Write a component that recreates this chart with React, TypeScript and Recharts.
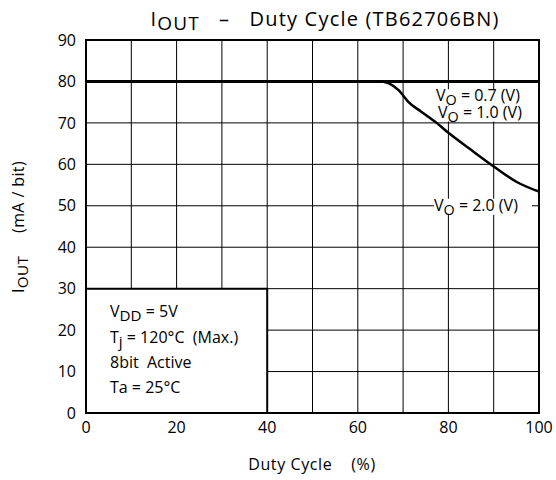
import { ComposedChart, Line, XAxis, YAxis, CartesianGrid, ReferenceArea, ReferenceDot } from 'recharts'

const xTicks = [0, 20, 40, 60, 80, 100]
const yTicks = [0, 10, 20, 30, 40, 50, 60, 70, 80, 90]
const gridX = [0, 10, 20, 30, 40, 50, 60, 70, 80, 90, 100]
const gridY = [0, 5, 10, 15, 20, 25, 30, 35, 40, 45, 50, 55, 60, 65, 70, 75, 80, 85, 90]

// Vo = 0.7 V : flat at 80 mA
const flatDuty = [0, 100]
const flatIout = [80, 80]

// Vo = 2.0 V : derating curve
const curveDuty = [65.4, 67, 69, 71.2, 74, 77.4, 80, 85, 90, 95, 100]
const curveIout = [80, 79.5, 77.9, 75, 72.7, 70, 67.6, 63.5, 59.5, 55.8, 53.4]

const conditions = ['VDD = 5V', 'Tj = 120°C  (Max.)', '8bit  Active', 'Ta = 25°C']

const flatData = flatDuty.map((d, i) => ({ duty: d, iout: flatIout[i] }))
const curveData = curveDuty.map((d, i) => ({ duty: d, iout: curveIout[i] }))

const FONT = '"Open Sans", "DejaVu Sans", sans-serif'
const PRE = { whiteSpace: 'pre' as const }

function SubText({ x, y, main, sub, rest, size = 16, anchor = 'start', spacing = 0, subSize = 0.95 }: any) {
  return (
    <text x={x} y={y} fontFamily={FONT} fontSize={size} fill="#000" textAnchor={anchor} letterSpacing={spacing} style={PRE}>
      <tspan>{main}</tspan>
      <tspan dy={4} fontSize={size * subSize}>{sub}</tspan>
      <tspan dy={-4}>{rest}</tspan>
    </text>
  )
}

function VoLabel(text: string, dx: number, dy: number, w: number) {
  return (props: any) => {
    const { cx, cy } = props
    return (
      <g>
        <rect x={cx + dx} y={cy + dy - 12} width={w} height={16} fill="#fff" />
        <SubText x={cx + dx} y={cy + dy} main="V" sub="O" rest={text} subSize={0.9} />
      </g>
    )
  }
}

function ConditionBox(props: any) {
  const { cx, cy } = props
  return (
    <g>
      <SubText x={cx + 24} y={cy + 28} main="V" sub="DD" rest=" = 5V" />
      <SubText x={cx + 24} y={cy + 54} main="T" sub="j" rest=" = 120°C  (Max.)" />
      <text x={cx + 24} y={cy + 79} fontFamily={FONT} fontSize={16} fill="#000" style={PRE}>{conditions[2]}</text>
      <text x={cx + 24} y={cy + 104} fontFamily={FONT} fontSize={16} fill="#000" style={PRE}>{conditions[3]}</text>
    </g>
  )
}

export default function App() {
  return (
    <div style={{ position: 'absolute', left: 0, top: 0, width: 556, height: 480, background: '#fff' }}>
      <svg width={556} height={480} style={{ position: 'absolute', left: 0, top: 0 }}>
        <SubText x={325} y={26} main="I" sub="OUT" rest="   –   Duty Cycle (TB62706BN)" size={20} spacing={1.2} anchor="middle" />
        <text x={312} y={470} fontFamily={FONT} fontSize={16} letterSpacing={0.6} textAnchor="middle" fill="#000" style={PRE}>Duty Cycle    (%)</text>
        <g transform="translate(24 227) rotate(-90)">
          <SubText x={0} y={0} main="I" sub="OUT" rest="     (mA / bit)" size={16} spacing={0.4} anchor="middle" />
        </g>
      </svg>
      <ComposedChart
        width={556}
        height={480}
        margin={{ top: 40, right: 17, bottom: 37, left: 36 }}
        style={{ position: 'absolute', left: 0, top: 0 }}
      >
        <CartesianGrid
          stroke="#000"
          strokeWidth={1}
          verticalValues={gridX}
          horizontalValues={gridY}
        />
        <XAxis
          type="number"
          dataKey="duty"
          domain={[0, 100]}
          ticks={xTicks}
          allowDataOverflow
          height={30}
          tickLine={false}
          axisLine={{ stroke: '#000', strokeWidth: 2 }}
          tick={{ fill: '#000', fontSize: 16, fontFamily: FONT }}
          tickMargin={3}
        />
        <YAxis
          type="number"
          dataKey="iout"
          domain={[0, 90]}
          ticks={yTicks}
          allowDataOverflow
          width={50}
          tickLine={false}
          axisLine={{ stroke: '#000', strokeWidth: 2 }}
          tick={{ fill: '#000', fontSize: 16, fontFamily: FONT }}
          tickMargin={4}
        />
        <ReferenceArea x1={0} x2={40} y1={0} y2={30} fill="#fff" fillOpacity={1} stroke="#000" strokeWidth={2} />
        <ReferenceArea x1={0} x2={100} y1={0} y2={90} fill="none" fillOpacity={0} stroke="#000" strokeWidth={2} />
        <Line
          data={flatData}
          dataKey="iout"
          type="linear"
          stroke="#000"
          strokeWidth={3}
          dot={false}
          isAnimationActive={false}
        />
        <Line
          data={curveData}
          dataKey="iout"
          type="monotone"
          stroke="#000"
          strokeWidth={2.5}
          dot={false}
          isAnimationActive={false}
        />
        <ReferenceDot x={100} y={72} r={0} shape={VoLabel(' = 1.0 (V)', -101, 3, 94)} />
        <ReferenceDot x={100} y={75} r={0} shape={VoLabel(' = 0.7 (V)', -103, -1, 96)} />
        <ReferenceDot x={100} y={50} r={0} shape={VoLabel(' = 2.0 (V)', -105, 5, 98)} />
        <ReferenceDot x={0} y={30} r={0} shape={ConditionBox} />
      </ComposedChart>
    </div>
  )
}
